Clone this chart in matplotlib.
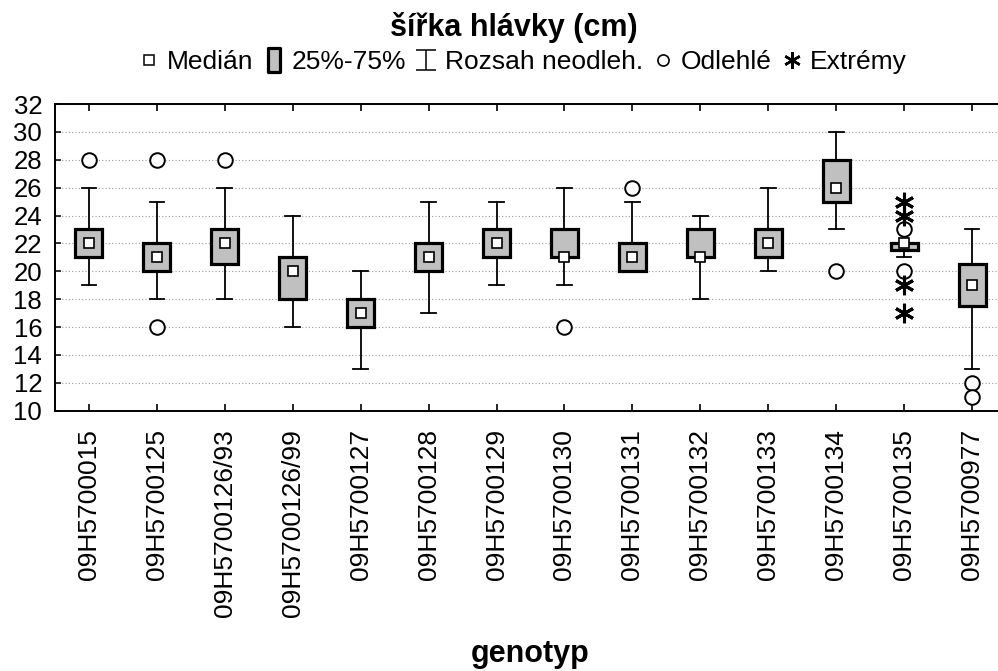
# рисую крабичковый график (box plot) ширины головки по генотипам
import numpy as np
import matplotlib.pyplot as plt
from matplotlib.lines import Line2D
from matplotlib.path import Path

# шрифт похожий на Arial
plt.rcParams['font.family'] = ['Liberation Sans', 'DejaVu Sans']

# --- ДАННЫЕ ---
genotypes = ['09H5700015', '09H5700125', '09H5700126/93', '09H5700126/99',
             '09H5700127', '09H5700128', '09H5700129', '09H5700130',
             '09H5700131', '09H5700132', '09H5700133', '09H5700134',
             '09H5700135', '09H5700977']

median = [22, 21, 22, 20, 17, 21, 22, 21, 21, 21, 22, 26, 22, 19]
q1 = [21, 20, 20.5, 18, 16, 20, 21, 21, 20, 21, 21, 25, 21.5, 17.5]
q3 = [23, 22, 23, 21, 18, 22, 23, 23, 22, 23, 23, 28, 22, 20.5]
whis_lo = [19, 18, 18, 16, 13, 17, 19, 19, 20, 18, 20, 23, 21, 13]
whis_hi = [26, 25, 26, 24, 20, 25, 25, 26, 25, 24, 26, 30, 22, 23]

# отдельные точки: odlehlé (кружки) и extrémy (звездочки)
outliers = [[28], [28, 16], [28], [], [], [], [], [16], [26], [], [], [20],
            [23, 20], [12, 11]]
extremes = [[], [], [], [], [], [], [], [], [], [], [], [],
            [25, 24, 19, 17], []]

# --- ХОЛСТ ---
fig = plt.figure(figsize=(9.98, 6.71), dpi=100)
W, H = 998, 671
# ось справа специально уходит за край картинки
ax = fig.add_axes([54.7 / W, (H - 410.7) / H, 951.6 / W, (410.7 - 104) / H])

pos = np.arange(1, len(genotypes) + 1)

# статистики для bxp, чтоб matplotlib сам нарисовал коробки и усы
stats = []
for i in range(len(genotypes)):
    stats.append({'med': median[i], 'q1': q1[i], 'q3': q3[i],
                  'whislo': whis_lo[i], 'whishi': whis_hi[i], 'fliers': []})

ax.bxp(stats, positions=pos, widths=0.39, capwidths=0.21, patch_artist=True,
       showfliers=False,
       boxprops=dict(facecolor='#c0c0c0', edgecolor='black', linewidth=2.3),
       whiskerprops=dict(color='black', linewidth=1.3),
       capprops=dict(color='black', linewidth=1.3),
       medianprops=dict(visible=False))

# медианы - белые квадратики
ax.plot(pos, median, ls='none', marker='s', ms=6.5, mfc='white', mec='black',
        mew=1.2, zorder=5)

# выбросы и экстремумы
for i in range(len(genotypes)):
    if outliers[i]:
        ax.plot([pos[i]] * len(outliers[i]), outliers[i], ls='none', marker='o',
                ms=10.5, mfc='white', mec='black', mew=1.4, zorder=4)
    if extremes[i]:
        ax.plot([pos[i]] * len(extremes[i]), extremes[i], ls='none',
                marker=(6, 2, 0), ms=14, mec='black', mew=2.2, zorder=4)

# --- ОСИ ---
ax.set_xlim(0.5, 14.5)
ax.set_ylim(10, 32)
ax.set_yticks(np.arange(10, 33, 2))
ax.set_xticks(pos)
ax.set_xticklabels(genotypes, rotation=90, fontsize=19)
ax.tick_params(axis='y', labelsize=18.5, direction='in', length=4, width=1.1, pad=9)
ax.tick_params(axis='x', direction='in', length=5, width=1.2, top=True, pad=13)
ax.yaxis.grid(True, ls=(0, (1, 2)), color='#9a9a9a', lw=0.8)
ax.set_axisbelow(True)
for s in ax.spines.values():
    s.set_linewidth(1.4)

# заголовок и подпись оси X
fig.text(514 / W, 1 - 36 / H, 'šířka hlávky (cm)', ha='center', va='baseline',
         fontsize=22, fontweight='bold')
fig.text(530 / W, 1 - 662 / H, 'genotyp', ha='center', va='baseline',
         fontsize=22, fontweight='bold')

# --- ЛЕГЕНДА сверху ---
box_path = Path([(-0.5, -1), (0.5, -1), (0.5, 1), (-0.5, 1), (-0.5, -1)],
                [Path.MOVETO, Path.LINETO, Path.LINETO, Path.LINETO, Path.CLOSEPOLY])
whisk_path = Path([(-1, 1), (1, 1), (0, 1), (0, -1), (-1, -1), (1, -1)],
                  [Path.MOVETO, Path.LINETO, Path.MOVETO, Path.LINETO,
                   Path.MOVETO, Path.LINETO])
handles = [
    Line2D([], [], ls='none', marker='s', ms=6.5, mfc='white', mec='black', mew=1.1),
    Line2D([], [], ls='none', marker=box_path, ms=17, mfc='#c0c0c0', mec='black', mew=2.3),
    Line2D([], [], ls='none', marker=whisk_path, ms=15, mfc='none', mec='black', mew=1.1),
    Line2D([], [], ls='none', marker='o', ms=8, mfc='white', mec='black', mew=1.2),
    Line2D([], [], ls='none', marker=(6, 2, 0), ms=12, mec='black', mew=1.8),
]
labels = ['Medián', '25%-75%', 'Rozsah neodleh.', 'Odlehlé', 'Extrémy']
fig.legend(handles, labels, loc='center', bbox_to_anchor=(524 / W, 1 - 62 / H),
           ncol=5, frameon=False, fontsize=19, handlelength=0.6,
           handletextpad=0.4, columnspacing=0.45, borderpad=0, borderaxespad=0)

fig.savefig('out.png', dpi=100)
